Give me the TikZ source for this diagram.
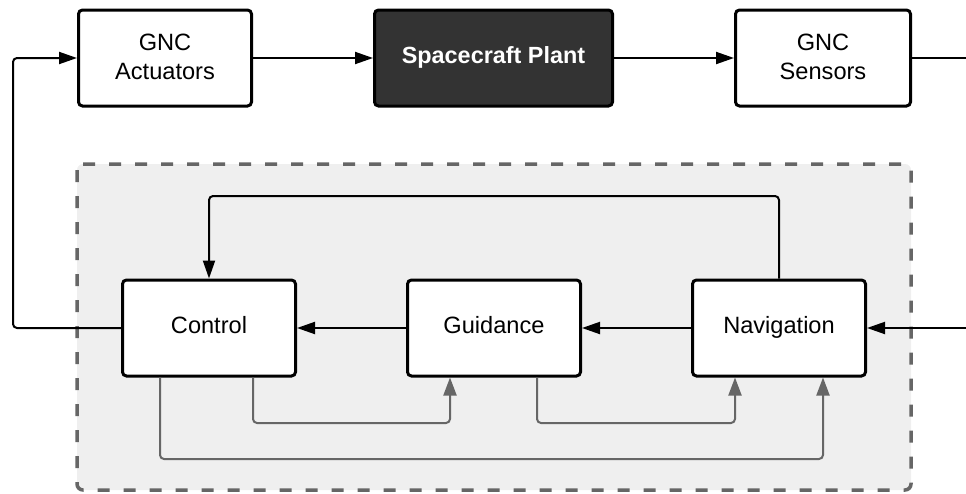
\documentclass[tikz,border=0pt]{standalone}
\usepackage{fontspec}
\setmainfont{Liberation Sans}
\usetikzlibrary{arrows.meta}
\definecolor{darkfill}{HTML}{333333}
\definecolor{panel}{HTML}{EFEFEF}
\definecolor{grayline}{HTML}{666666}
\begin{document}
\begin{tikzpicture}[x=1pt,y=-1pt,
  blk/.style={draw=black, line width=3pt, fill=white, rounded corners=4pt,
    minimum height=96pt, inner sep=0pt, align=center,
    text height=17pt, text depth=5.5pt,
    font=\fontsize{23.6}{29}\selectfont},
  twoline/.style={text height=46pt, text depth=4pt},
  conn/.style={draw=black, line width=2pt, rounded corners=4pt,
    -{Triangle[length=18pt,width=12pt]}},
  plain/.style={draw=black, line width=2pt, rounded corners=4pt},
  gconn/.style={draw=grayline, line width=2pt, rounded corners=4pt,
    -{Triangle[length=18pt,width=13pt]}},
  panelbox/.style={draw=grayline, fill=panel, line width=3.5pt,
    dash pattern=on 12pt off 14pt, rounded corners=6pt}
]
\useasboundingbox (0,0) rectangle (966,493);
% panel
\path[panelbox] (77,164) rectangle (911,490);
% top row
\node[blk, twoline, minimum width=173pt] (act) at (165,58) {GNC\\Actuators};
\node[blk, minimum width=238pt, fill=darkfill, text=white,
  font=\fontsize{23.4}{29}\selectfont\bfseries] (plant) at (493.5,58) {Spacecraft Plant};
\node[blk, twoline, minimum width=175pt] (sens) at (823,58) {GNC\\Sensors};
% bottom row
\node[blk, minimum width=173pt] (ctrl) at (209,328) {Control};
\node[blk, minimum width=173pt] (guid) at (494,328) {Guidance};
\node[blk, minimum width=173pt] (nav) at (779,328) {Navigation};
% free ends
\coordinate (outR) at (966,58);
\coordinate (inR) at (966,328);
% top row connectors
\draw[conn] (act.east) -- (plant.west);
\draw[conn] (plant.east) -- (sens.west);
\draw[plain] (sens.east) -- (outR);
% left feedback to actuators
\draw[conn] (ctrl.west) -- (13,328) -- (13,58) -- (act.west);
% main chain
\draw[conn] (inR) -- (nav.east);
\draw[conn] (nav.west) -- (guid.east);
\draw[conn] (guid.west) -- (ctrl.east);
% top loop navigation -> control
\draw[conn] (nav.north) -- (nav.north |- 0,196) -| (ctrl.north);
% gray connectors
\coordinate (c1) at ([xshift=44pt]ctrl.south);
\coordinate (c2) at ([xshift=-49pt]ctrl.south);
\coordinate (g1) at ([xshift=-44pt]guid.south);
\coordinate (g2) at ([xshift=43pt]guid.south);
\coordinate (n1) at ([xshift=-44pt]nav.south);
\coordinate (n2) at ([xshift=44pt]nav.south);
\draw[gconn] (c1) -- (c1 |- 0,423) -| (g1);
\draw[gconn] (g2) -- (g2 |- 0,423) -| (n1);
\draw[gconn] (c2) -- (c2 |- 0,459) -| (n2);
\end{tikzpicture}
\end{document}
